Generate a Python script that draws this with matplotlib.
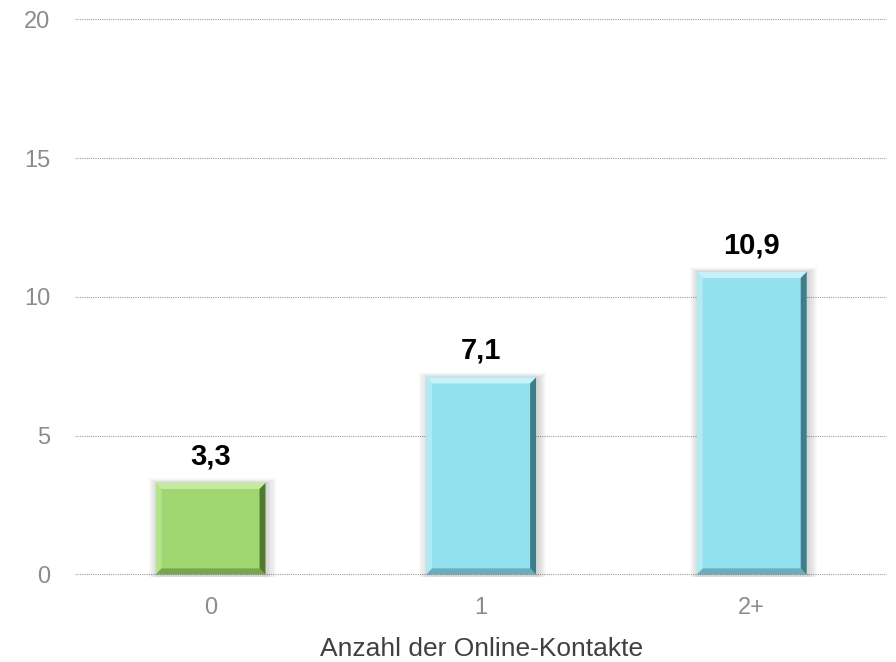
import matplotlib.pyplot as plt
from matplotlib.patches import Polygon

categories = ['0', '1', '2+']
values = [3.3, 7.1, 10.9]
labels = ['3,3', '7,1', '10,9']
colors = ['#9fd66f', '#93e0ef']
bar_colors = [colors[0], colors[1], colors[1]]
light = ['#c4eba0', '#c6f1f9']
dark = ['#4f7a2c', '#3f7d8a']
bar_light = [light[0], light[1], light[1]]
bar_dark = [dark[0], dark[1], dark[1]]

fig = plt.figure(figsize=(8.96, 6.62), dpi=100)
ax = fig.add_axes([0.084, 0.128, 0.906, 0.845])

x = [i + 0.5 for i in range(len(categories))]
w = 0.406
bx = 0.022
by = 0.22

# soft shadow around the bars
for xi, v in zip(x, values):
    for k in range(1, 9):
        ax.bar(xi + 0.006, v + 0.06 * k, width=w + 0.008 * k, bottom=-0.04 * k,
               color='black', alpha=0.018, zorder=2, linewidth=0)

ax.bar(x, values, width=w, color=bar_colors, zorder=3, linewidth=0)

# bevel edges
for xi, v, lc, dc in zip(x, values, bar_light, bar_dark):
    l, r = xi - w / 2, xi + w / 2
    ax.add_patch(Polygon([(l, v), (r, v), (r - bx, v - by), (l + bx, v - by)],
                         closed=True, color=lc, zorder=4, linewidth=0))
    ax.add_patch(Polygon([(l, 0), (l, v), (l + bx, v - by), (l + bx, by)],
                         closed=True, color=lc, alpha=0.6, zorder=4, linewidth=0))
    ax.add_patch(Polygon([(r, 0), (r, v), (r - bx, v - by), (r - bx, by)],
                         closed=True, color=dc, zorder=4, linewidth=0))
    ax.add_patch(Polygon([(l, 0), (r, 0), (r - bx, by), (l + bx, by)],
                         closed=True, color=dc, alpha=0.5, zorder=4, linewidth=0))

for xi, v, t in zip(x, values, labels):
    ax.text(xi, v + 0.45, t, ha='center', va='bottom', fontsize=21,
            fontweight='bold', family='Liberation Sans', zorder=5)

ax.set_xlim(0, 3)
ax.set_ylim(-0.1, 20.05)
ax.set_yticks([0, 5, 10, 15, 20])
ax.set_xticks(x)
ax.set_xticklabels(categories)
ax.tick_params(axis='both', length=0, labelsize=17, labelcolor='#8c8c8c')
ax.tick_params(axis='x', pad=14)
ax.tick_params(axis='y', pad=18)
for lab in ax.get_xticklabels() + ax.get_yticklabels():
    lab.set_family('Liberation Sans')
ax.yaxis.grid(True, linestyle=(0, (1, 1)), color='#a0a0a0', linewidth=0.8, zorder=0)
ax.set_axisbelow(True)
for s in ax.spines.values():
    s.set_visible(False)
ax.set_xlabel('Anzahl der Online-Kontakte', fontsize=19, family='Liberation Sans',
              color='#404040', labelpad=13)

fig.savefig('out.png', dpi=100)
